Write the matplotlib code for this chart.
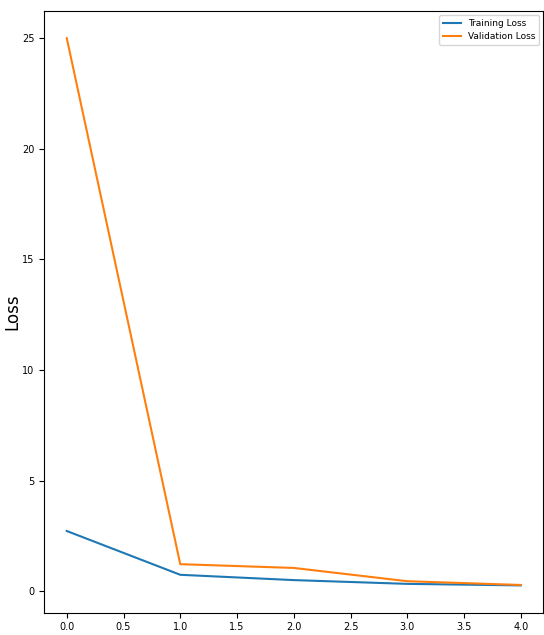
import matplotlib
matplotlib.use('Agg')
import matplotlib.pyplot as plt

# valores
epochs = [0, 1, 2, 3, 4]
train_loss = [2.72, 0.74, 0.50, 0.33, 0.26]
val_loss = [25.0, 1.22, 1.05, 0.45, 0.28]

fig = plt.figure(figsize=(5.44, 6.35), dpi=100)
ax = fig.add_axes([0.081, 0.035, 0.918, 0.948])

ax.plot(epochs, train_loss, label='Training Loss')
ax.plot(epochs, val_loss, label='Validation Loss')

ax.set_ylabel('Loss', fontsize=12)
ax.yaxis.set_label_coords(-0.046, 0.5)
ax.tick_params(labelsize=7)
ax.legend(loc='upper right', fontsize=6.5)

fig.savefig('out.png', dpi=100)
